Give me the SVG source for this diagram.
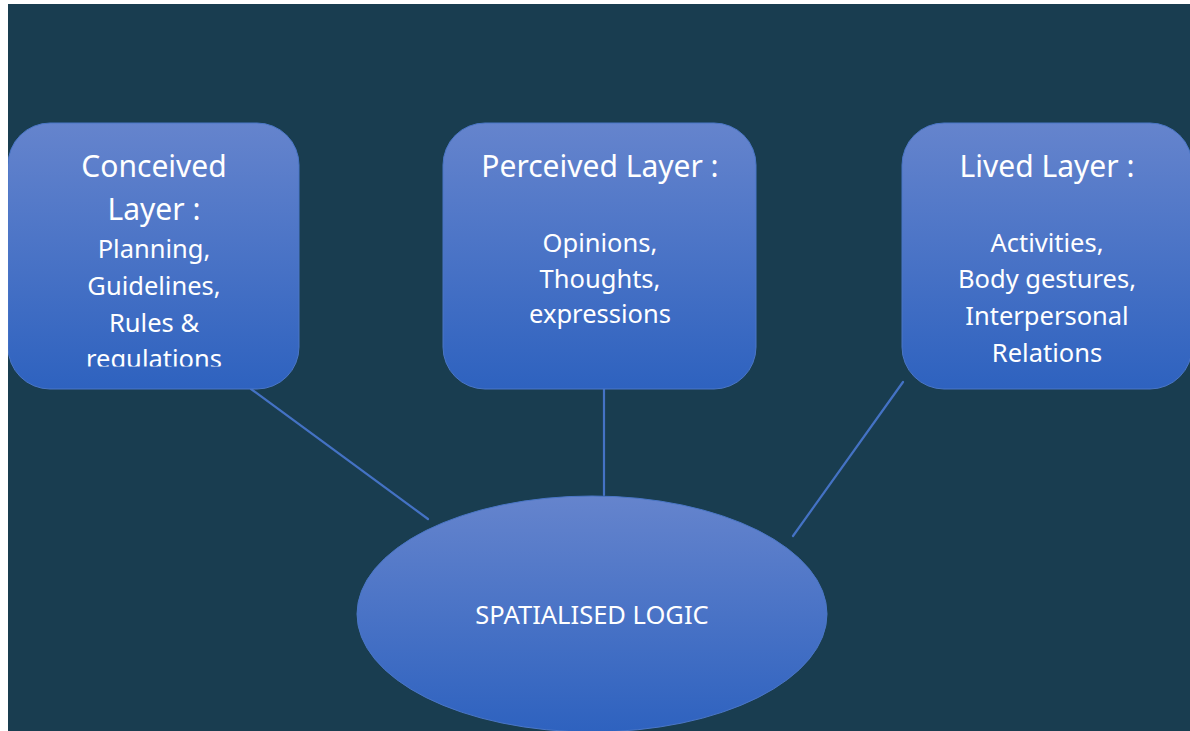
<svg xmlns="http://www.w3.org/2000/svg" width="1190" height="731" viewBox="0 0 1190 731">
<defs>
<linearGradient id="g" x1="0" y1="0" x2="0" y2="1">
<stop offset="0" stop-color="#6584cd"/>
<stop offset="1" stop-color="#2e62bf"/>
</linearGradient>
<clipPath id="clipL"><rect x="8" y="123" width="291" height="243.5"/></clipPath>
<clipPath id="page"><rect x="8" y="4" width="1182" height="727"/></clipPath>
<style>
.box{fill:url(#g);stroke:#4a76c6;stroke-width:1}
.t{font-family:"Noto Sans","Open Sans",sans-serif;fill:#ffffff;text-anchor:middle}
.h{font-size:30px}
.b{font-size:25.5px}
.c{stroke:#4472c4;stroke-width:2.2;fill:none;stroke-linecap:round}
</style>
</defs>
<rect x="0" y="0" width="1190" height="731" fill="#ffffff"/>
<rect x="8" y="4" width="1182" height="727" fill="#193d50"/>
<g clip-path="url(#page)">
<g id="connectors">
<line class="c" x1="251" y1="389" x2="428" y2="519"/>
<line class="c" x1="604" y1="389" x2="604" y2="495"/>
<line class="c" x1="903" y1="382" x2="793" y2="536"/>
</g>
<g id="conceived">
<rect class="box" x="8" y="123" width="291" height="266" rx="42" ry="42"/>
<g clip-path="url(#clipL)">
<text class="t h" x="154" y="177">Conceived</text>
<text class="t h" x="154" y="220">Layer :</text>
<text class="t b" x="154" y="258">Planning,</text>
<text class="t b" x="154" y="295">Guidelines,</text>
<text class="t b" x="154" y="332">Rules &amp;</text>
<text class="t b" x="154" y="368">regulations</text>
</g>
</g>
<g id="perceived">
<rect class="box" x="443" y="123" width="313" height="266" rx="42" ry="42"/>
<text class="t h" x="600" y="177">Perceived Layer :</text>
<text class="t b" x="600" y="252">Opinions,</text>
<text class="t b" x="600" y="288">Thoughts,</text>
<text class="t b" x="600" y="323">expressions</text>
</g>
<g id="lived">
<rect class="box" x="902" y="123" width="290" height="266" rx="42" ry="42"/>
<text class="t h" x="1047" y="177">Lived Layer :</text>
<text class="t b" x="1047" y="252">Activities,</text>
<text class="t b" x="1047" y="288">Body gestures,</text>
<text class="t b" x="1047" y="325">Interpersonal</text>
<text class="t b" x="1047" y="362">Relations</text>
</g>
<g id="spatialised">
<ellipse class="box" cx="592" cy="614" rx="235" ry="118"/>
<text class="t" x="592" y="624" font-size="25.5">SPATIALISED LOGIC</text>
</g>
</g>
</svg>
